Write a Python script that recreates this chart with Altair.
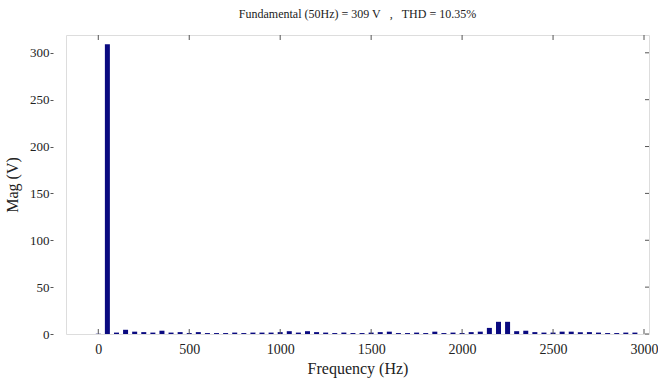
import altair as alt
import pandas as pd

# Harmonic spectrum (50 Hz steps)
freqs = [0, 50, 100, 150, 200, 250, 300, 350, 400, 450,
         500, 550, 600, 650, 700, 750, 800, 850, 900, 950,
         1000, 1050, 1100, 1150, 1200, 1250, 1300, 1350, 1400, 1450,
         1500, 1550, 1600, 1650, 1700, 1750, 1800, 1850, 1900, 1950,
         2000, 2050, 2100, 2150, 2200, 2250, 2300, 2350, 2400, 2450,
         2500, 2550, 2600, 2650, 2700, 2750, 2800, 2850, 2900, 2950]
mags = [0.3, 309, 1.5, 4.5, 2.5, 2.0, 1.5, 3.5, 1.5, 2.0,
        1.0, 2.0, 1.0, 1.0, 1.0, 1.5, 1.0, 1.5, 1.5, 1.5,
        2.0, 3.0, 1.5, 3.0, 2.0, 1.5, 1.0, 1.5, 1.0, 1.0,
        1.5, 2.0, 2.5, 1.0, 1.0, 1.5, 1.0, 2.5, 1.0, 1.5,
        1.0, 2.0, 2.5, 6.5, 13.0, 13.0, 3.0, 3.5, 2.0, 1.5,
        1.5, 2.5, 2.5, 2.0, 2.0, 1.5, 1.0, 1.0, 1.5, 1.5]
x_ticks = [0, 500, 1000, 1500, 2000, 2500, 3000]
y_ticks = [0, 50, 100, 150, 200, 250, 300]
NB = "\u00a0"
title_text = "Fundamental (50Hz) = 309 V" + NB * 3 + "," + NB * 3 + "THD = 10.35%"

W, H = 583, 299
FONT = "Liberation Serif"
TXT = "#222222"

df = pd.DataFrame({"freq": freqs, "mag": mags})
dfx = pd.DataFrame({"t": x_ticks})
dfy = pd.DataFrame({"v": y_ticks})

xscale = alt.Scale(domain=[-150, 3000], nice=False, zero=False)
yscale = alt.Scale(domain=[0, 319], nice=False)

bars = alt.Chart(df).mark_bar(size=5, color="#0A0A80").encode(
    x=alt.X("freq:Q", scale=xscale,
            axis=alt.Axis(values=x_ticks, format="d", title="Frequency (Hz)", grid=False,
                          domain=False, tickSize=0, labelPadding=8,
                          labelFont=FONT, labelFontSize=14, labelColor=TXT,
                          titleFont=FONT, titleFontSize=16, titleFontWeight="normal",
                          titleColor=TXT, titlePadding=4)),
    y=alt.Y("mag:Q", scale=yscale,
            axis=alt.Axis(values=y_ticks, format="d", title="Mag (V)", grid=False,
                          domain=False, offset=13, tickSize=3, tickColor="#555555",
                          labelPadding=1, labelFont=FONT, labelFontSize=13,
                          labelColor=TXT, titleFont=FONT, titleFontSize=16,
                          titleFontWeight="normal", titleColor=TXT, titlePadding=9)),
)

bottom_ticks = alt.Chart(dfx).mark_rule(color="#555555").encode(
    x=alt.X("t:Q", scale=xscale), y=alt.value(H), y2=alt.value(H - 5))
top_ticks = alt.Chart(dfx).mark_rule(color="#555555").encode(
    x=alt.X("t:Q", scale=xscale), y=alt.value(0), y2=alt.value(5))
right_ticks = alt.Chart(dfy).mark_rule(color="#555555").encode(
    y=alt.Y("v:Q", scale=yscale), x=alt.value(W), x2=alt.value(W - 4))

chart = alt.layer(bars, bottom_ticks, top_ticks, right_ticks).properties(
    width=W, height=H,
    title=alt.TitleParams(title_text, font=FONT, fontSize=12, fontWeight="normal",
                          color=TXT, anchor="middle", offset=14),
    autosize=alt.AutoSizeParams(type="none"),
    padding={"left": 66, "top": 35, "right": 9, "bottom": 47},
).configure_view(stroke="#888888", strokeWidth=1).configure(background="white")

chart.save("out.html", embed_options={"renderer": "svg", "actions": False})
